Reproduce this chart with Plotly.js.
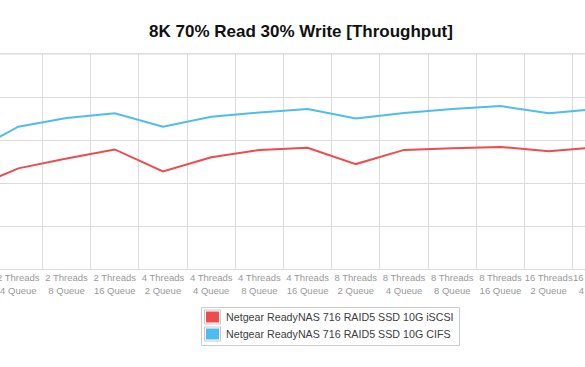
<!DOCTYPE html>
<html>
<head>
<meta charset="utf-8">
<script src="https://cdn.plot.ly/plotly-3.0.1.min.js"></script>
<style>
  html, body { margin: 0; padding: 0; width: 585px; height: 367px; overflow: hidden; background: #fff; }
  #chart { position: absolute; top: 0; left: -64px; width: 700px; height: 367px; }
</style>
</head>
<body>
<div id="chart"></div>
<script>
// ---- data ----
const categories = [
  "2 Threads<br>2 Queue", "2 Threads<br>4 Queue", "2 Threads<br>8 Queue", "2 Threads<br>16 Queue",
  "4 Threads<br>2 Queue", "4 Threads<br>4 Queue", "4 Threads<br>8 Queue", "4 Threads<br>16 Queue",
  "8 Threads<br>2 Queue", "8 Threads<br>4 Queue", "8 Threads<br>8 Queue", "8 Threads<br>16 Queue",
  "16 Threads<br>2 Queue", "16 Threads<br>4 Queue"
];
const iscsiValues = [187, 234, 257, 278, 227, 260, 277, 282, 244, 277, 281, 284, 274, 283];
const cifsValues  = [270, 331, 351, 362, 331, 354, 364, 372, 350, 363, 372, 379, 362, 372];
const seriesNames = ["Netgear ReadyNAS 716 RAID5 SSD 10G iSCSI", "Netgear ReadyNAS 716 RAID5 SSD 10G CIFS"];
const titleText = "8K 70% Read 30% Write [Throughput]";

// ---- styling / layout ----
const colors = ["#EE4B4F", "#4DBDEE"];
const M = {l: 10, r: 15, t: 54, b: 98};
const plotLeft = -54, plotW = 675, plotBottom = 269, plotH = 215;
const px2x = p => (p - plotLeft) / plotW;
const py2y = p => (plotBottom - p) / plotH;

const traces = [iscsiValues, cifsValues].map((vals, i) => ({
  type: "scatter", mode: "lines", x: categories, y: vals, name: seriesNames[i],
  line: {color: colors[i], width: 2}, showlegend: false, hoverinfo: "skip"
}));

// top border of the plot area
const shapes = [{
  type: "line", xref: "paper", yref: "paper", x0: 0, x1: 1, y0: 1, y1: 1,
  line: {color: "#dcdcdc", width: 1}, layer: "below"
}];
// manual legend
shapes.push({
  type: "rect", xref: "paper", yref: "paper",
  x0: px2x(201.5), x1: px2x(459.5), y0: py2y(307.5), y1: py2y(345.5),
  line: {color: "#cccccc", width: 1}, fillcolor: "rgba(255,255,255,0)"
});
const annotations = [];
const rowY = [317, 334];
seriesNames.forEach((n, i) => {
  shapes.push({
    type: "rect", xref: "paper", yref: "paper",
    x0: px2x(204.5), x1: px2x(220.5), y0: py2y(rowY[i] - 7), y1: py2y(rowY[i] + 7),
    line: {color: "#c8c8c8", width: 1}, fillcolor: "#ffffff"
  });
  shapes.push({
    type: "rect", xref: "paper", yref: "paper",
    x0: px2x(206), x1: px2x(219), y0: py2y(rowY[i] - 5.5), y1: py2y(rowY[i] + 5.5),
    line: {width: 0}, fillcolor: colors[i]
  });
  annotations.push({
    xref: "paper", yref: "paper", x: px2x(223.5), y: py2y(rowY[i]),
    xanchor: "left", yanchor: "middle", showarrow: false, text: n,
    font: {family: "Liberation Sans, Arial, sans-serif", size: 10.7, color: "#3d3d3d"}
  });
});

const layout = {
  width: 700, height: 367,
  margin: M,
  paper_bgcolor: "#ffffff", plot_bgcolor: "#ffffff",
  showlegend: false,
  title: {
    text: titleText, xref: "paper", x: px2x(301), xanchor: "center",
    yref: "container", y: 1 - 31.5 / 367, yanchor: "middle",
    font: {family: "Liberation Sans, Arial, sans-serif", size: 17, color: "#111111", weight: "bold"}
  },
  xaxis: {
    type: "category", tickson: "boundaries", dtick: 1, tickangle: 0,
    range: [-0.5, categories.length - 0.5],
    showgrid: true, gridcolor: "#dcdcdc", gridwidth: 1,
    showline: true, mirror: true, linecolor: "#dcdcdc", linewidth: 1,
    ticks: "", automargin: false, fixedrange: true,
    tickfont: {family: "Liberation Sans, Arial, sans-serif", size: 9.5, color: "#999999"}
  },
  yaxis: {
    range: [0, 500], dtick: 100, showticklabels: false,
    showgrid: true, gridcolor: "#dcdcdc", gridwidth: 1,
    zeroline: false, automargin: false, fixedrange: true
  },
  shapes: shapes,
  annotations: annotations
};

Plotly.newPlot("chart", traces, layout, {displayModeBar: false, staticPlot: true});
</script>
</body>
</html>
